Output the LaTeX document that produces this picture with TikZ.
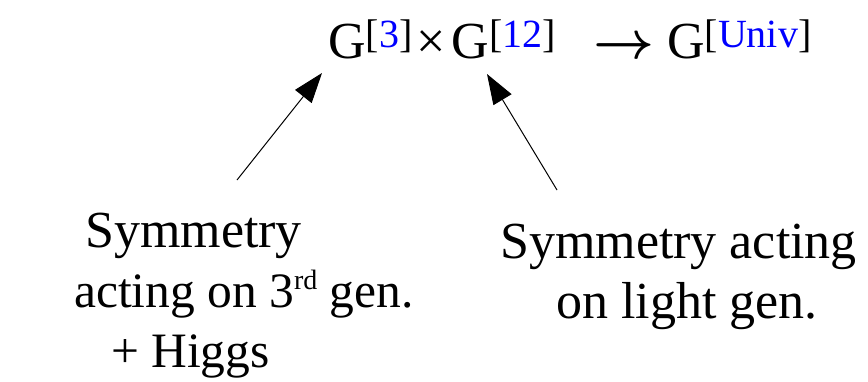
\documentclass[tikz,border=0pt]{standalone}
\usepackage{fontspec}
\usepackage{graphicx}
\setmainfont{Liberation Serif}
\usetikzlibrary{arrows.meta}
\definecolor{supblue}{RGB}{0,0,255}
\newcommand{\supbr}[1]{\raisebox{11pt}{\fontsize{40}{40}\selectfont[\textcolor{supblue}{#1}]}}
\newcommand{\ordsup}[1]{\raisebox{18pt}{\fontsize{28}{28}\selectfont #1}}
\begin{document}
\begin{tikzpicture}[x=1pt,y=-1pt,
  txt/.style={font=\fontsize{52}{60}\selectfont, inner sep=0pt, anchor=base west},
  txtb/.style={font=\fontsize{49.5}{60}\selectfont, inner sep=0pt, anchor=base west},
  pointer/.style={-{Triangle[length=30pt,width=21pt]}, line width=1pt}]
\useasboundingbox (0,0) rectangle (868,381);
\node[txt] (prod) at (328,58) {G\supbr{3}\hspace{4pt}×\hspace{6pt}G\supbr{12}};
\node[txt] (arr) at (593,58) {\scalebox{5.3}{\fontsize{10}{12}\selectfont\boldmath$\rightarrow$}};
\node[txt] (univ) at (667,58) {G\supbr{Univ}};
\node[txt] (l1) at (85,247) {Symmetry};
\node[txtb] (l2) at (74,307) {acting on 3\ordsup{rd} gen.};
\node[txtb] (l3) at (111,367) {+ Higgs};
\node[txt] (r1) at (500,258) {Symmetry acting};
\node[txt] (r2) at (556,318) {on light gen.};
\coordinate (a1s) at (237,180);
\coordinate (a1e) at (322,73);
\coordinate (a2s) at (557,190);
\coordinate (a2e) at (487,74);
\draw[pointer] (a1s) -- (a1e);
\draw[pointer] (a2s) -- (a2e);
\end{tikzpicture}
\end{document}
